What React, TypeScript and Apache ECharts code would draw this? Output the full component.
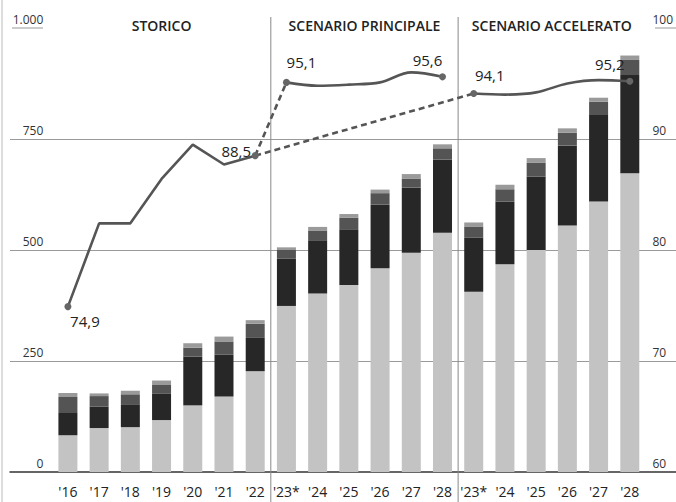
import React, { useEffect, useRef } from "react";
import * as echarts from "echarts";

const categories = ["'16", "'17", "'18", "'19", "'20", "'21", "'22", "'23*", "'24", "'25", "'26", "'27", "'28", "'23*", "'24", "'25", "'26", "'27", "'28"];

// stacked bar components (left axis, 0-1000)
const barLight = [83, 99, 101, 117, 150, 170, 227, 374, 402, 421, 459, 494, 539, 406, 468, 500, 555, 609, 673];
const barBlack = [50, 48, 50, 59, 110, 94, 75, 107, 120, 126, 143, 147, 165, 122, 141, 165, 180, 195, 221];
const barDark = [36, 24, 24, 20, 20, 30, 32, 19, 22, 26, 26, 20, 25, 25, 28, 32, 29, 30, 34];
const barCap = [9, 6, 8, 10, 10, 11, 8, 6, 8, 8, 8, 10, 9, 9, 10, 10, 10, 9, 10];

// line (right axis, 60-100)
const storico = [74.9, 82.4, 82.4, 86.4, 89.5, 87.7, 88.5];
const principale = [95.1, 94.8, 94.9, 95.1, 96.0, 95.6];
const accelerato = [94.1, 94.0, 94.2, 95.0, 95.3, 95.2];

const leftTicks = [0, 250, 500, 750, 1000];
const rightTicks = [60, 70, 80, 90, 100];
const sectionTitles = ["STORICO", "SCENARIO PRINCIPALE", "SCENARIO ACCELERATO"];

const FONT = "'Open Sans', sans-serif";

// label offsets for the labelled end points (style only)
const labelOffsets: Record<number, [number, number]> = {
  0: [17, 25],
  6: [-19, 6],
  7: [15, -9.5],
  12: [-15, -6],
  13: [16, -7],
  18: [-20, -6],
};

const fmt = (v: number) => v.toFixed(1).replace(".", ",");

function buildLine(values: number[], start: number, labelled: number[]) {
  const out: any[] = categories.map(() => null);
  values.forEach((v, i) => {
    const idx = start + i;
    if (labelled.includes(idx)) {
      out[idx] = {
        value: v,
        symbol: "circle",
        symbolSize: 7,
        label: {
          show: true,
          position: "top",
          distance: 0,
          offset: labelOffsets[idx],
          formatter: () => fmt(v),
          fontSize: 15,
          color: "#222",
          fontFamily: FONT,
        },
      };
    } else {
      out[idx] = { value: v, symbol: "none" };
    }
  });
  return out;
}

export default function App() {
  const ref = useRef<HTMLDivElement>(null);
  useEffect(() => {
    if (!ref.current) return;
    const chart = echarts.init(ref.current, undefined, { renderer: "svg" });

    const nS = storico.length;
    const nP = principale.length;
    const storicoData = buildLine(storico, 0, [0, nS - 1]);
    const principaleData = buildLine(principale, nS, [nS, nS + nP - 1]);
    const accelData = buildLine(accelerato, nS + nP, [nS + nP, categories.length - 1]);

    const dash1: any[] = categories.map(() => null);
    dash1[nS - 1] = storico[nS - 1];
    dash1[nS] = principale[0];
    const dash2: any[] = categories.map(() => null);
    dash2[nS - 1] = storico[nS - 1];
    dash2[nS + nP] = accelerato[0];

    const lineStyle = { color: "#555", width: 2.6 };
    const barColors = ["#c3c3c3", "#272727", "#545454", "#9a9a9a"];
    const bars = [barLight, barBlack, barDark, barCap].map((d, i) => ({
      type: "bar",
      stack: "tot",
      xAxisIndex: 0,
      yAxisIndex: 0,
      barWidth: 19,
      data: d,
      itemStyle: { color: barColors[i] },
      z: 2,
    }));

    const option: any = {
      animation: false,
      textStyle: { fontFamily: FONT },
      grid: [
        { left: 52.3, right: 28.3, top: 28, bottom: 30 },
        { left: 10, right: 0, top: 28, bottom: 30 },
      ],
      xAxis: [
        {
          type: "category",
          gridIndex: 0,
          data: categories,
          axisLine: { show: false },
          axisTick: { show: false },
          axisLabel: { interval: 0, fontSize: 14, color: "#222", margin: 12, fontFamily: FONT },
        },
        {
          type: "value",
          gridIndex: 1,
          min: 0,
          max: 1,
          axisLine: { show: true, onZero: false, lineStyle: { color: "#333", width: 1.5 } },
          axisTick: { show: false },
          axisLabel: { show: false },
          splitLine: { show: false },
        },
      ],
      yAxis: [
        {
          type: "value",
          gridIndex: 0,
          min: leftTicks[0],
          max: leftTicks[leftTicks.length - 1],
          interval: 250,
          axisLine: { show: false },
          axisTick: { show: false },
          splitLine: { show: false },
          axisLabel: {
            fontSize: 12,
            color: "#333",
            margin: 9,
            verticalAlign: "bottom",
            padding: [0, 0, 3, 0],
            fontFamily: FONT,
            formatter: (v: number) => (v >= 1000 ? v.toLocaleString("it-IT").replace(/\s/g, ".") : String(v)),
          },
        },
        {
          type: "value",
          gridIndex: 0,
          position: "right",
          min: rightTicks[0],
          max: rightTicks[rightTicks.length - 1],
          interval: 10,
          axisLine: { show: false },
          axisTick: { show: false },
          splitLine: { show: false },
          axisLabel: {
            fontSize: 12,
            color: "#333",
            margin: 7,
            align: "left",
            verticalAlign: "bottom",
            padding: [0, 0, 3, 0],
            fontFamily: FONT,
          },
        },
        {
          type: "value",
          gridIndex: 1,
          min: leftTicks[0],
          max: leftTicks[leftTicks.length - 1],
          interval: 250,
          axisLine: { show: false },
          axisTick: { show: false },
          axisLabel: { show: false },
          splitLine: {
            show: true,
            lineStyle: { color: ["rgba(0,0,0,0)", "#9a9a9a", "#9a9a9a", "#9a9a9a", "rgba(0,0,0,0)"], width: 1 },
          },
        },
      ],
      series: [
        ...bars,
        {
          type: "line",
          xAxisIndex: 0,
          yAxisIndex: 1,
          data: dash1,
          connectNulls: true,
          symbol: "none",
          lineStyle: { color: "#555", width: 2.6, type: [6, 4] },
          z: 5,
        },
        {
          type: "line",
          xAxisIndex: 0,
          yAxisIndex: 1,
          data: dash2,
          connectNulls: true,
          symbol: "none",
          lineStyle: { color: "#555", width: 2.6, type: [6, 4] },
          z: 5,
        },
        {
          type: "line",
          xAxisIndex: 0,
          yAxisIndex: 1,
          data: storicoData,
          symbol: "circle",
          symbolSize: 7,
          itemStyle: { color: "#666" },
          lineStyle,
          z: 6,
        },
        {
          type: "line",
          xAxisIndex: 0,
          yAxisIndex: 1,
          data: principaleData,
          smooth: 0.35,
          symbol: "circle",
          symbolSize: 7,
          itemStyle: { color: "#666" },
          lineStyle,
          z: 6,
        },
        {
          type: "line",
          xAxisIndex: 0,
          yAxisIndex: 1,
          data: accelData,
          smooth: 0.35,
          symbol: "circle",
          symbolSize: 7,
          itemStyle: { color: "#666" },
          lineStyle,
          z: 6,
        },
      ],
    };
    chart.setOption(option);

    const xi = (i: number) => chart.convertToPixel({ xAxisIndex: 0 }, i) as number;
    const yTop = chart.convertToPixel({ yAxisIndex: 0 }, leftTicks[leftTicks.length - 1]) as number;
    const sep1 = (xi(nS - 1) + xi(nS)) / 2;
    const sep2 = (xi(nS + nP - 1) + xi(nS + nP)) / 2;
    const centers = [
      (xi(0) + xi(nS - 1)) / 2,
      (xi(nS) + xi(nS + nP - 1)) / 2,
      (xi(nS + nP) + xi(categories.length - 1)) / 2,
    ];
    const W = 676;
    const H = 502;

    chart.setOption({
      graphic: [
        { type: "line", shape: { x1: 2, y1: 0, x2: 2, y2: H }, style: { stroke: "#bbb", lineWidth: 1 }, z: 1 },
        { type: "line", shape: { x1: sep1, y1: 17, x2: sep1, y2: H }, style: { stroke: "#888", lineWidth: 1 }, z: 3 },
        { type: "line", shape: { x1: sep2, y1: 17, x2: sep2, y2: H }, style: { stroke: "#888", lineWidth: 1 }, z: 3 },
        { type: "line", shape: { x1: 12, y1: yTop, x2: 43, y2: yTop }, style: { stroke: "#999", lineWidth: 1 }, z: 3 },
        { type: "line", shape: { x1: 655, y1: yTop, x2: W, y2: yTop }, style: { stroke: "#999", lineWidth: 1 }, z: 3 },
        ...sectionTitles.map((t, i) => ({
          type: "text",
          x: centers[i],
          y: 25,
          z: 10,
          style: {
            text: t,
            fill: "#222",
            fontSize: 14,
            fontWeight: 600,
            fontFamily: FONT,
            align: "center",
            verticalAlign: "middle",
          },
        })),
      ],
    });

    return () => chart.dispose();
  }, []);

  return <div ref={ref} style={{ position: "absolute", left: 0, top: 0, width: 676, height: 502 }} />;
}
